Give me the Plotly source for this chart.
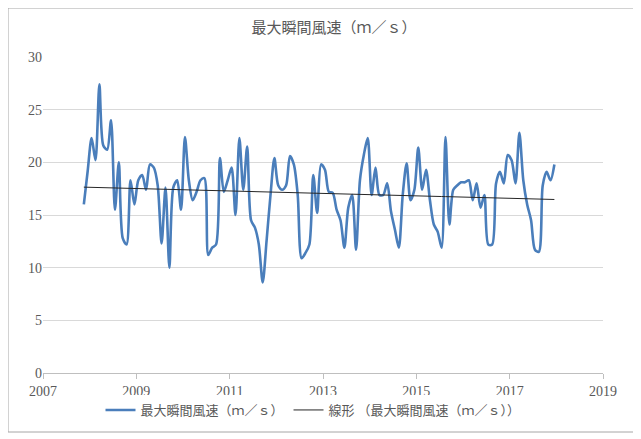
import numpy as np
import plotly.graph_objects as go

start_year = 2007
start_month = 11  # November 2007, plotted at mid-month

wind = [16.0, 19.2, 22.3, 20.2, 27.4, 21.6, 21.2, 24.0, 15.5, 20.0, 12.8,
        12.2, 18.3, 16.0, 18.3, 18.8, 17.4, 19.8, 19.5, 17.8, 12.3,
        17.6, 10.0, 17.6, 18.3, 15.5, 22.4, 18.3, 16.4, 17.2, 18.3,
        18.5, 11.2, 11.9, 12.2, 20.4, 17.2, 18.3, 19.5, 15.0, 22.3,
        17.4, 21.5, 14.5, 13.8, 12.2, 8.6, 12.6, 16.9, 20.4, 17.8,
        17.4, 17.8, 20.6, 19.8, 16.9, 10.9, 11.4, 12.2, 18.8, 15.2,
        19.8, 19.3, 17.2, 17.1, 15.5, 14.5, 11.9, 15.7, 16.9, 11.7,
        18.3, 20.7, 22.3, 16.9, 19.5, 16.9, 16.9, 18.0, 15.3, 13.6,
        11.9, 16.9, 19.9, 16.4, 17.4, 21.4, 17.4, 19.3, 16.4, 14.1,
        13.4, 11.9, 22.4, 14.1, 17.4, 17.8, 18.1, 18.1, 18.3, 16.4,
        18.0, 15.7, 16.9, 12.2, 12.2, 18.0, 19.1, 18.0, 20.7, 20.2,
        18.0, 22.8, 18.3, 16.0, 14.5, 11.7, 11.5, 17.8, 19.1, 18.3,
        19.8]

x_ticks = [2007, 2009, 2011, 2013, 2015, 2017, 2019]
y_ticks = [0, 5, 10, 15, 20, 25, 30]

title_text = "最大瞬間風速（ｍ／ｓ）"
series_name = "最大瞬間風速（ｍ／ｓ）"
trend_name = "線形 （最大瞬間風速（ｍ／ｓ））"

t = np.array([start_year + (start_month - 0.5 + i) / 12.0 for i in range(len(wind))])
w = np.array(wind)
coef = np.polyfit(t, w, 1)
trend = np.polyval(coef, t)

fig = go.Figure()
fig.add_trace(go.Scatter(
    x=t, y=w, mode="lines", name=series_name,
    line=dict(color="#4a7ebb", width=2.6, shape="spline", smoothing=0.8),
))
fig.add_trace(go.Scatter(
    x=t, y=trend, mode="lines", name=trend_name,
    line=dict(color="#262626", width=1),
))

serif = "Liberation Serif, Times New Roman, serif"
cjk = "Noto Sans CJK JP"
W, H = 641, 439
L, T = 35, 49          # page has an 8px body offset
PW, PH = 560, 316
fig.update_layout(
    width=W, height=H,
    margin=dict(l=L, r=W - L - PW, t=T, b=H - T - PH, autoexpand=False),
    paper_bgcolor="white", plot_bgcolor="white",
    title=dict(text=title_text, x=326 / W, xanchor="center",
               y=1 - 20 / H, yanchor="middle", yref="container", xref="container",
               font=dict(family=cjk, size=15, color="#595959")),
    font=dict(family=serif, size=14, color="#595959"),
    xaxis=dict(range=[2007, 2019], tickvals=x_ticks, showgrid=False,
               showline=True, linecolor="#bfbfbf", linewidth=1,
               ticks="outside", ticklen=5, tickcolor="#bfbfbf",
               tickfont=dict(family=serif, size=14, color="#595959"),
               zeroline=False),
    yaxis=dict(range=[0, 30], tickvals=y_ticks, showgrid=True,
               gridcolor="#d9d9d9", gridwidth=1, showline=False,
               ticks="", zeroline=False,
               tickfont=dict(family=serif, size=14, color="#595959")),
    legend=dict(orientation="h", x=305 / W, xanchor="center",
                y=1 - 402 / H, yanchor="middle", yref="container", xref="container",
                font=dict(family=cjk, size=13, color="#595959"),
                itemwidth=30, tracegroupgap=0),
    showlegend=True,
    shapes=[dict(type="rect", xref="paper", yref="paper",
                 x0=-L / PW, x1=(W - 1 - L) / PW,
                 y0=(T + PH - 424) / PH, y1=(T + PH) / PH,
                 line=dict(color="#a6a6a6", width=1))],
)

fig.write_html("out.html")
